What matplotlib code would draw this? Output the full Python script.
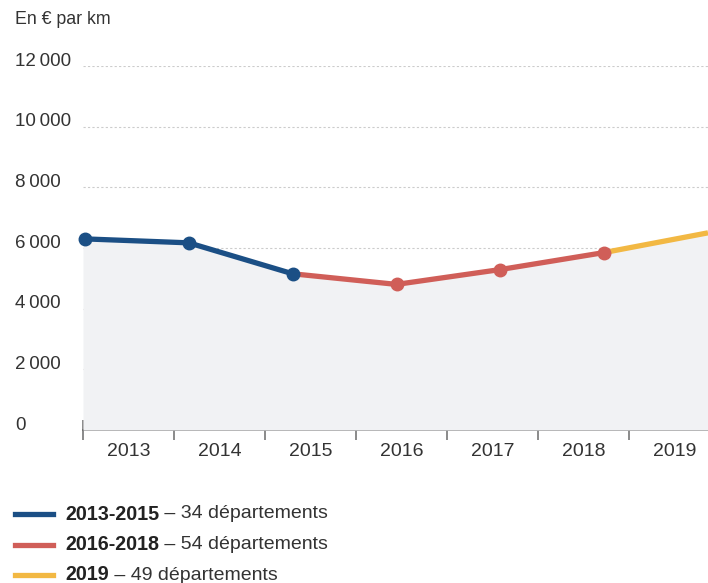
import numpy as np
import matplotlib
matplotlib.use("Agg")
import matplotlib.pyplot as plt

plt.rcParams['font.family'] = ['Liberation Sans', 'DejaVu Sans']

# data
years        = ['2013', '2014', '2015', '2016', '2017', '2018', '2019']
values       = [6300, 6170, 5150, 4800, 5290, 5850, 6500]
ytick_vals   = [0, 2000, 4000, 6000, 8000, 10000, 12000]
ytick_labels = ['0', '2\u2009000', '4\u2009000', '6\u2009000', '8\u2009000', '10\u2009000', '12\u2009000']
periods      = [(0, 2, '2013-2015', '34 départements'),
                (2, 5, '2016-2018', '54 départements'),
                (5, 6, '2019', '49 départements')]
colors       = ['#1b4f85', '#d05e58', '#f2b843']

W, H = 708, 583
fig = plt.figure(figsize=(W / 100, H / 100), dpi=100)

# main axis: year bins (ticks at bin edges)
left, right, bottom, top = 83, 708, 430, 66
ax = fig.add_axes([left / W, 1 - bottom / H, (right - left) / W, (bottom - top) / H])
nbins = (right - left) / 91.0
ax.set_xlim(0, nbins)
ax.set_ylim(0, 12000)
for s in ['top', 'right', 'left']:
    ax.spines[s].set_visible(False)
ax.spines['bottom'].set_color('#666666')
ax.spines['bottom'].set_linewidth(1.2)
ax.set_xticks(range(len(years)))
ax.set_xticklabels([])
ax.set_xticks([i + 0.5 for i in range(len(years))], minor=True)
ax.set_xticklabels(years, minor=True, fontsize=14, color='#333333')
ax.tick_params(axis='x', which='major', direction='inout', length=15, width=1.2, color='#777777')
ax.tick_params(axis='x', which='minor', length=0, pad=9)
ax.set_yticks([])
for v in ytick_vals[1:]:
    ax.axhline(v, color='#cccccc', lw=0.8, ls=(0, (2, 2)), zorder=1)

# y labels drawn left of axis, sitting on the grid lines
for v, lab in zip(ytick_vals, ytick_labels):
    ax.annotate(lab, xy=(0, v), xycoords=('axes fraction', 'data'),
                xytext=(-68, 5), textcoords='offset pixels', fontsize=13.5,
                color='#333333', ha='left', va='center', annotation_clip=False)
fig.text(15 / W, 1 - 20 / H, 'En € par km', fontsize=12.8, color='#333333', va='center')

# data axis: points spaced evenly up to right edge
ax2 = ax.twiny()
ax2.set_xlim(-2 / 103.8, len(values) - 1)
ax2.set_ylim(0, 12000)
ax2.axis('off')
x = np.arange(len(values))
xf = np.r_[ax2.get_xlim()[0], x]
yf = np.r_[values[0], values]
ax2.fill_between(xf, yf, 0, color='#f1f2f4', zorder=0, lw=0)
for (a, b, _, _), c in zip(periods, colors):
    ax2.plot(x[a:b + 1], values[a:b + 1], color=c, lw=3.8, solid_capstyle='butt', zorder=3)
for i in range(len(values) - 1):
    c = colors[0] if i <= 2 else colors[1]
    ax2.plot(x[i], values[i], 'o', color=c, ms=9, zorder=4, clip_on=False)

# legend
renderer = fig.canvas.get_renderer()
for k, ((_, _, bold, rest), c) in enumerate(zip(periods, colors)):
    yy = 1 - (514 + 30.5 * k) / H
    fig.add_artist(plt.Line2D([15 / W, 53 / W], [yy, yy], color=c, lw=3.8))
    t = fig.text(65 / W, yy, bold, fontsize=14.2, fontweight='bold', color='#222222', va='center')
    bb = t.get_window_extent(renderer)
    fig.text(bb.x1 / W, yy, ' – ' + rest, fontsize=14, color='#333333', va='center')

fig.savefig('out.png', dpi=100)
